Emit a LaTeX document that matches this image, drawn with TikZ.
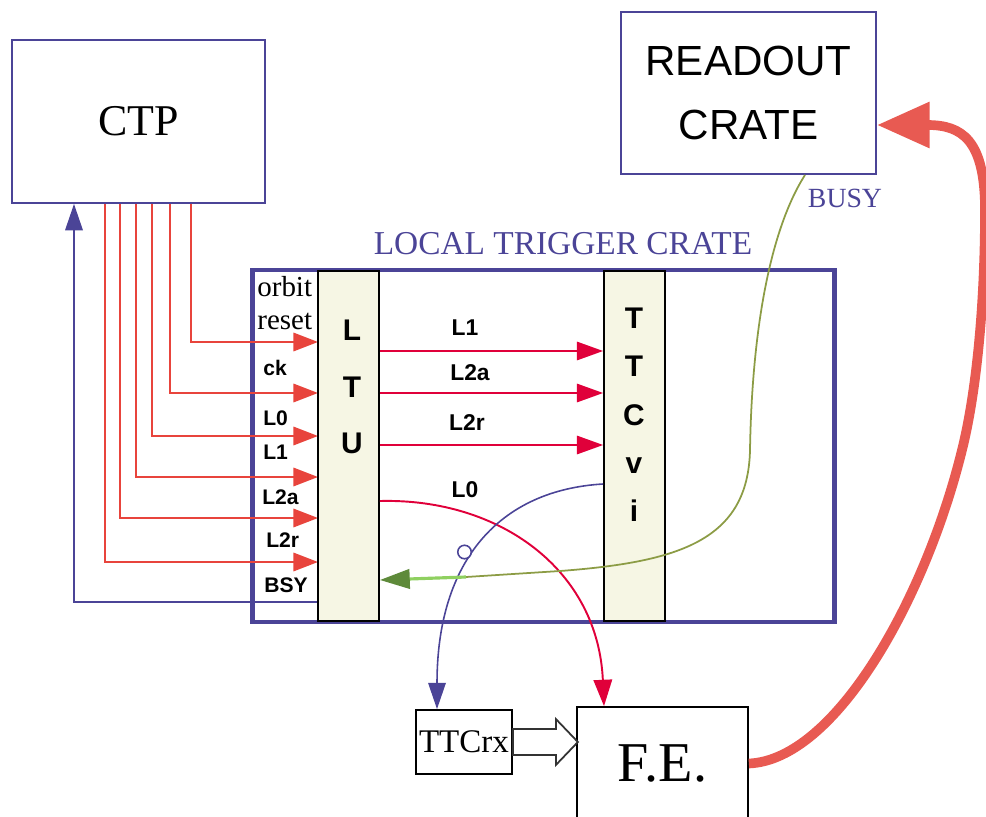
\documentclass[tikz,border=0pt]{standalone}
\usepackage{fontspec}
\setmainfont{Liberation Serif}
\setsansfont{Liberation Sans}
\usepackage{tikz}
\usetikzlibrary{positioning,arrows.meta,calc}
\definecolor{crateblue}{HTML}{4B4497}
\definecolor{sigred}{HTML}{E8443C}
\definecolor{ltured}{HTML}{E0003A}
\definecolor{busyolive}{HTML}{8C9C45}
\definecolor{busylight}{HTML}{8FD060}
\definecolor{busydark}{HTML}{5E8A3A}
\definecolor{rosalmon}{HTML}{E85A52}
\definecolor{modfill}{HTML}{F6F6E4}

\begin{document}
\begin{tikzpicture}[x=0.02cm,y=-0.02cm,
  frame/.style={draw=crateblue, line width=1.1pt, fill=white, inner sep=0pt},
  module/.style={draw=black, line width=1pt, fill=modfill, inner sep=0pt, minimum width=1.22cm, minimum height=7cm},
  unit/.style={draw=black, line width=1pt, fill=white, inner sep=0pt},
  modtxt/.style={font=\sffamily\bfseries\fontsize{17}{32}\selectfont, align=center, inner sep=0pt},
  sig/.style={font=\sffamily\bfseries\fontsize{12}{14}\selectfont, anchor=west, inner sep=0pt},
  ttctxt/.style={font=\sffamily\bfseries\fontsize{13}{16}\selectfont, inner sep=0pt},
  ctpsig/.style={sigred, line width=1.1pt, -{Triangle[length=14pt,width=10.5pt]}},
  ttcsig/.style={ltured, line width=1.1pt, -{Triangle[length=15pt,width=10.5pt]}},
  bluesig/.style={crateblue, line width=0.9pt, -{Triangle[length=15pt,width=10pt]}}]
\useasboundingbox (0,0) rectangle (986,817);
% crates and boxes
\node[frame, minimum width=5.06cm, minimum height=3.26cm, font=\fontsize{25}{30}\selectfont] (ctp) at (138.5,121.5) {CTP};
\node[frame, minimum width=5.1cm, minimum height=3.24cm, align=center, font=\sffamily\fontsize{24}{36}\selectfont] (roc) at (748.5,93) {READOUT\\CRATE};
\node[text=crateblue, font=\fontsize{15.8}{18}\selectfont, inner sep=0pt] (busy) at (845,198) {BUSY};
\node[text=crateblue, font=\fontsize{19}{22}\selectfont, inner sep=0pt] (ltctitle) at (563,244) {LOCAL TRIGGER CRATE};
\node[draw=crateblue, line width=2.8pt, minimum width=11.66cm, minimum height=7.04cm] (ltc) at (543.5,446) {};
% signals from CTP
\foreach \xx/\yy in {191/342,170/393,152/436,136/477,120/518,105/562}
  \draw[ctpsig] (ctp.south -| \xx,0) |- (318,\yy);
\draw[bluesig] (318,602) -| (ctp.south -| 74,0);
% LTU and TTCvi
\node[module] (ltu) at (348.5,446) {};
\node[module] (ttcvi) at (634.5,446) {};
\node[modtxt] (ltutxt) at (352,387) {L\\T\\U};
\node[modtxt, font=\sffamily\bfseries\fontsize{17}{27.5}\selectfont] (ttctxt) at (634,415) {T\\T\\C\\v\\i};
\node[sig, font=\fontsize{16.5}{18.8}\selectfont, align=left] (orbit) at (257,303) {orbit\\reset};
\node[sig] (sck) at (263,368) {ck};
\node[sig] (sl0) at (263,418) {L0};
\node[sig] (sl1) at (263,452) {L1};
\node[sig] (sl2a) at (262,497) {L2a};
\node[sig] (sl2r) at (266,540) {L2r};
\node[sig] (sbsy) at (264,585) {BSY};
% LTU to TTCvi
\foreach \yy in {351,393,445}
  \draw[ttcsig] (ltu.east |- 0,\yy) -- (ttcvi.west |- 0,\yy);
\node[ttctxt] (tl1) at (465,328) {L1};
\node[ttctxt] (tl2a) at (470,373) {L2a};
\node[ttctxt] (tl2r) at (467,423) {L2r};
\node[ttctxt] (tl0) at (465,490) {L0};
% front end
\node[unit, minimum width=1.92cm, minimum height=1.28cm, font=\fontsize{18.8}{22}\selectfont] (ttcrx) at (464,742) {TTCrx};
\node[unit, minimum width=3.42cm, minimum height=2.26cm, font=\fontsize{32}{36}\selectfont] (fe) at (662.5,763.5) {F.E.};
\draw[draw=black!80, fill=white, line width=1pt] (ttcrx.east) ++(0,-13) -- ++(43,0) -- ++(0,-10) -- ++(22,23) -- ++(-22,23) -- ++(0,-10) -- ++(-43,0) -- cycle;
\draw[ttcsig] (ltu.east |- 0,501) .. controls (500,498) and (598,570) .. (fe.north -| 604,0);
\draw[bluesig] (ttcvi.west |- 0,484) .. controls (500,490) and (437,560) .. (ttcrx.north -| 437,0);
\node[circle, draw=crateblue, fill=white, line width=0.9pt, minimum size=0.27cm, inner sep=0pt] (inv) at (464.5,552) {};
% busy line
\coordinate (busyend) at (466,577);
\draw[busyolive, line width=1pt] (roc.south -| 805,0) .. controls (770,230) and (752,330) .. (750,450) .. controls (748,540) and (680,562) .. (560,571) -- (busyend);
\draw[busylight, line width=1.8pt, -{Triangle[length=17pt,width=11pt,color=busydark]}] (busyend) -- (ltu.east |- 0,580);
% data to readout
\draw[rosalmon, line width=5.5pt, -{Triangle[length=30pt,width=25pt]}] (fe.east) .. controls (835,760) and (925,600) .. (962,450) .. controls (977,390) and (985,300) .. (985,210) .. controls (985,140) and (962,125) .. (roc.east |- 0,125);
\end{tikzpicture}
\end{document}
